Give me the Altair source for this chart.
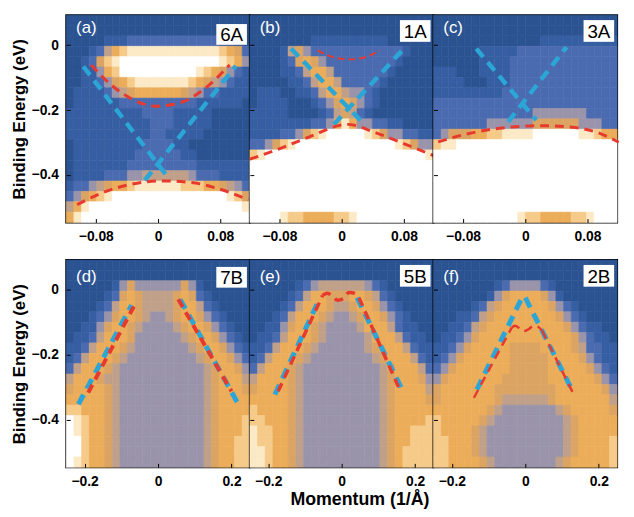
import altair as alt
import pandas as pd

# axis ranges (momentum in 1/A, binding energy in eV)
TOP_X = [-0.118, 0.118]
BOT_X = [-0.25, 0.25]
ENERGY = [-0.546, 0.092]

TOP_TICKS = [-0.08, 0, 0.08]
BOT_TICKS = [-0.2, 0, 0.2]
E_TICKS = [-0.4, -0.2, 0]

# colour of each intensity level 0 (dark blue) .. 9 (white)
LEVEL_COLORS = ['#2b5391', '#365ea2', '#4b6bb0', '#9a94aa', '#c0a088',
                '#dca462', '#ecad5a', '#f6cb8a', '#fce9c6', '#ffffff']

# ARPES intensity maps, one digit per cell (top row first)
MAP_A = [
    "000000000000000000000000",
    "000000000000000000000000",
    "000001112222222222221100",
    "000124678888888888887652",
    "001257899999999999998763",
    "001136799999999998765321",
    "001123567888888876543211",
    "011112345666666543221111",
    "011111122222222221111110",
    "111111111122221111100000",
    "111111111112221111100000",
    "111111111112211111000000",
    "011111111122221100000000",
    "011111111222222110000000",
    "011111112222222221111111",
    "011112223344444432221111",
    "122345667888888777665432",
    "235678999999999999999875",
    "468999999999999999999998",
    "689999999999999999999999",
]
MAP_B = [
    "000000000000000000000000",
    "000000000000000000000000",
    "000000001111111111000000",
    "000014532222222222221000",
    "000012565322222222210000",
    "000011246642222222100000",
    "000001124664222221000000",
    "011100112466433210000000",
    "011110001235653210000000",
    "111110000124542100000000",
    "111111112236863322110000",
    "111122357899999875332211",
    "223578999999999999987533",
    "789999999999999999999998",
    "999999999999999999999999",
    "999999999999999999999999",
    "999999999999999999999999",
    "999999999999999999999999",
    "999999999999999999999999",
    "999987766667789999999999",
]
MAP_C = [
    "000000000000000000000000",
    "000000000000000000000000",
    "000000000000001111111111",
    "000000111112222222222222",
    "000000111122222222222222",
    "111000111122222222222222",
    "111100011122222222222222",
    "111111111222222222222222",
    "222222222222222222222222",
    "222222222222233333332222",
    "222222233333355555533322",
    "235556677888899999988766",
    "788999999999999999999999",
    "999999999999999999999999",
    "999999999999999999999999",
    "999999999999999999999999",
    "999999999999999999999999",
    "999999999999999999999999",
    "999999999999999999999999",
    "999999999998776666778999",
]
MAP_D = [
    "000000000000000000000000",
    "000000000000000000000000",
    "000000135333333531000000",
    "000001256544445652100000",
    "000012466544445664210000",
    "000123566543345665321000",
    "001135665433334566532100",
    "011246665333333456653210",
    "112466654333333345665321",
    "124666543333333334566532",
    "246665433333333333456653",
    "466654433333333333456664",
    "566665433333333333456665",
    "666665433333333333456666",
    "776665433333333333456666",
    "987665433333333333456667",
    "987665433333333333456667",
    "997665433333333333456677",
    "997665433333333333456677",
    "987665433333333333456677",
]
MAP_E = [
    "000000000000000000000000",
    "000000000000000000000000",
    "000000123444444321000000",
    "000001246655566542100000",
    "000012466654456653210000",
    "000124666543345665321000",
    "001135665433334666421100",
    "011246665433333466642110",
    "112466654333333456664211",
    "124666543333333345666421",
    "246665433333333334566642",
    "466665433333333334566653",
    "566665433333333334566664",
    "666665433333333334566665",
    "766665433333333334566666",
    "776665433333333334566667",
    "877665433333333334566777",
    "877665433333333334566777",
    "887665433333333334567777",
    "887665433333333334567777",
]
MAP_F = [
    "000000000000000000000000",
    "000000000000000000000000",
    "000000001233332100000000",
    "000000013566665310000000",
    "000001245666666532100000",
    "000112456666666653210000",
    "001124566666666665321100",
    "011235666666666666532110",
    "112356666655556666542211",
    "123566666655555666653211",
    "235666666655555666665321",
    "356666666555555666666532",
    "566666665555555566666653",
    "566666665444444566666664",
    "666666654333333345666665",
    "766666543333333334566666",
    "766665433333333334566666",
    "776665433333333334566667",
    "776665433333333334566667",
    "776666543333333345666667",
]

# dashed guide lines: (momenta, energies)
A_BLUE_1 = ([-0.096, 0.014], [-0.066, -0.411])
A_BLUE_2 = ([-0.017, 0.100], [-0.416, -0.064])
A_RED_UP = ([-0.086, -0.061, -0.036, -0.003, 0.030, 0.059, 0.092],
            [-0.061, -0.121, -0.163, -0.188, -0.176, -0.136, -0.061])
A_RED_LOW = ([-0.104, -0.073, -0.040, 0.005, 0.043, 0.076, 0.116],
             [-0.491, -0.456, -0.431, -0.418, -0.423, -0.441, -0.476])

B_BLUE_1 = ([-0.065, 0.028], [-0.011, -0.241])
B_BLUE_2 = ([-0.010, 0.078], [-0.244, -0.016])
B_RED_UP = ([-0.031, -0.010, 0.011, 0.032, 0.049],
            [-0.016, -0.038, -0.044, -0.036, -0.016])
B_RED_LOW = ([-0.118, -0.082, -0.040, 0.007, 0.045, 0.083, 0.119],
             [-0.351, -0.321, -0.281, -0.244, -0.271, -0.306, -0.341])

C_BLUE_1 = ([-0.063, 0.014], [-0.011, -0.231])
C_BLUE_2 = ([-0.022, 0.053], [-0.236, -0.006])
C_RED = ([-0.112, -0.076, -0.033, 0.023, 0.065, 0.095, 0.120],
         [-0.298, -0.274, -0.256, -0.248, -0.254, -0.271, -0.299])

D_BLUE_L = ([-0.217, -0.072], [-0.352, -0.047])
D_BLUE_R = ([0.060, 0.222], [-0.029, -0.359])
D_RED_L = ([-0.190, -0.066], [-0.316, -0.051])
D_RED_R = ([0.055, 0.200], [-0.029, -0.312])

E_BLUE_L = ([-0.182, -0.061], [-0.322, -0.029])
E_BLUE_R = ([0.042, 0.169], [-0.024, -0.317])
E_RED_L = ([-0.173, -0.052], [-0.312, -0.017])
E_RED_TOP = ([-0.052, -0.040, -0.025, -0.011, 0.004, 0.020, 0.036, 0.047],
             [-0.017, -0.010, -0.019, -0.032, -0.027, -0.008, -0.011, -0.024])
E_RED_R = ([0.047, 0.156], [-0.024, -0.302])

F_BLUE_L = ([-0.132, -0.009], [-0.307, -0.024])
F_BLUE_R = ([0.000, 0.127], [-0.024, -0.307])
F_RED_L = ([-0.140, -0.037], [-0.332, -0.116])
F_RED_TOP = ([-0.037, -0.028, -0.016, -0.004, 0.009, 0.022, 0.035, 0.046],
             [-0.116, -0.110, -0.118, -0.127, -0.121, -0.111, -0.114, -0.126])
F_RED_R = ([0.046, 0.132], [-0.126, -0.322])

LETTERS = ['(a)', '(b)', '(c)', '(d)', '(e)', '(f)']
SAMPLES = ['6A', '1A', '3A', '7B', '5B', '2B']

BLUE = '#2ba6d6'
RED = '#e8392f'
W, H = 186, 210


def heat_frame(rows, xdom):
    ncol, nrow = len(rows[0]), len(rows)
    assert all(len(r) == ncol for r in rows), [len(r) for r in rows]
    dx = (xdom[1] - xdom[0]) / ncol
    dy = (ENERGY[1] - ENERGY[0]) / nrow
    recs = []
    for i, row in enumerate(rows):
        for j, ch in enumerate(row):
            recs.append({'x0': xdom[0] + j * dx, 'x1': xdom[0] + (j + 1) * dx,
                         'y0': ENERGY[1] - (i + 1) * dy, 'y1': ENERGY[1] - i * dy,
                         'v': int(ch)})
    return pd.DataFrame(recs)


def panel(k, rows, xdom, xticks, xfmt, lines, first=False, xtitle=False,
          tag_y=(5, 27), letter_y=13):
    common = dict(labelFontSize=14, labelFontWeight='bold', labelColor='black',
                  tickColor='black', tickSize=4, tickWidth=1, offset=-4,
                  domain=False, grid=False, zindex=1)
    if xtitle:
        xax = alt.Axis(values=xticks, format=xfmt, labelPadding=7, labelFlush=False,
                       title='Momentum (1/Å)', titleX=W / 2 + 18, titleFontSize=18,
                       titleFontWeight='bold', titleColor='black', titlePadding=3,
                       **common)
    else:
        xax = alt.Axis(values=xticks, format=xfmt, labelPadding=7, labelFlush=False,
                       title=None, **common)
    if first:
        yax = alt.Axis(values=E_TICKS, format='.1~f', labelPadding=8,
                       title='Binding Energy (eV)', titleFontSize=17,
                       titleFontWeight='bold', titleColor='black', titlePadding=3,
                       **common)
    else:
        yax = alt.Axis(values=E_TICKS, labels=False, title=None, **common)

    xsc = alt.Scale(domain=xdom, nice=False, zero=False)
    ysc = alt.Scale(domain=ENERGY, nice=False, zero=False)
    csc = alt.Scale(domain=list(range(10)), range=LEVEL_COLORS)

    heat = alt.Chart(heat_frame(rows, xdom)).mark_rect(strokeWidth=0.6).encode(
        x=alt.X('x0:Q', scale=xsc, axis=xax),
        x2='x1',
        y=alt.Y('y0:Q', scale=ysc, axis=yax),
        y2='y1',
        color=alt.Color('v:O', scale=csc, legend=None),
        stroke=alt.Stroke('v:O', scale=csc, legend=None),
    )

    layers = [heat]
    for (xs, ys), color, width, dash, interp in lines:
        df = pd.DataFrame({'x0': xs, 'y0': ys})
        layers.append(alt.Chart(df).mark_line(
            color=color, strokeWidth=width, strokeDash=dash, interpolate=interp,
            strokeCap='butt').encode(
            x=alt.X('x0:Q', scale=xsc, axis=xax),
            y=alt.Y('y0:Q', scale=ysc, axis=yax)))

    lab = pd.DataFrame({'t': [LETTERS[k]], 's': [SAMPLES[k]]})
    box = alt.Chart(lab).mark_rect(fill='white').encode(
        x=alt.value(W - 34), x2=alt.value(W - 3),
        y=alt.value(tag_y[0]), y2=alt.value(tag_y[1]))
    tag = alt.Chart(lab).mark_text(font='Liberation Sans', fontSize=19, fill='black',
                                   align='center', baseline='middle').encode(
        text='s:N', x=alt.value(W - 18.5), y=alt.value((tag_y[0] + tag_y[1]) / 2 + 1))
    letter = alt.Chart(lab).mark_text(font='Liberation Sans', fontSize=17, fill='white',
                                      align='left', baseline='middle').encode(
        text='t:N', x=alt.value(10), y=alt.value(letter_y))
    layers += [box, tag, letter]
    return alt.layer(*layers).properties(width=W, height=H)


blue = lambda ln, w=4.5: (ln, BLUE, w, [11, 7], 'linear')
red = lambda ln, w=3, interp='monotone': (ln, RED, w, [9, 6], interp)

pa = panel(0, MAP_A, TOP_X, TOP_TICKS, '.2~f',
           [blue(A_BLUE_1), blue(A_BLUE_2), red(A_RED_UP), red(A_RED_LOW)],
           first=True, tag_y=(9, 30))
pb = panel(1, MAP_B, TOP_X, TOP_TICKS, '.2~f',
           [blue(B_BLUE_1), blue(B_BLUE_2), (B_RED_UP, RED, 2, [7, 4], 'monotone'),
            red(B_RED_LOW)])
pc = panel(2, MAP_C, TOP_X, TOP_TICKS, '.2~f',
           [blue(C_BLUE_1), blue(C_BLUE_2), red(C_RED)])
pd_ = panel(3, MAP_D, BOT_X, BOT_TICKS, '.1~f',
            [blue(D_BLUE_L, 5), blue(D_BLUE_R, 5), red(D_RED_L, 4, 'linear'),
             red(D_RED_R, 4, 'linear')],
            first=True, tag_y=(7, 28), letter_y=17)
pe = panel(4, MAP_E, BOT_X, BOT_TICKS, '.1~f',
           [blue(E_BLUE_L, 5), blue(E_BLUE_R, 5), red(E_RED_L, 3.5, 'linear'),
            red(E_RED_TOP, 3.5), red(E_RED_R, 3.5, 'linear')],
           xtitle=True, letter_y=17)
pf = panel(5, MAP_F, BOT_X, BOT_TICKS, '.1~f',
           [blue(F_BLUE_L, 5), blue(F_BLUE_R, 5), red(F_RED_L, 2.5, 'linear'),
            red(F_RED_TOP, 2.5), red(F_RED_R, 2.5, 'linear')],
           letter_y=17)

top = alt.hconcat(pa, pb, pc, spacing=0, bounds='flush')
bottom = alt.hconcat(pd_, pe, pf, spacing=0, bounds='flush')

chart = alt.vconcat(top, bottom, spacing=14).properties(
    padding={'left': 1, 'top': 2, 'right': 0, 'bottom': 0}
).configure_view(
    stroke='black', strokeWidth=2
).configure_axis(
    labelFont='Liberation Sans', titleFont='Liberation Sans'
)

chart.save("out.html", embed_options={"renderer": "svg", "actions": False})
